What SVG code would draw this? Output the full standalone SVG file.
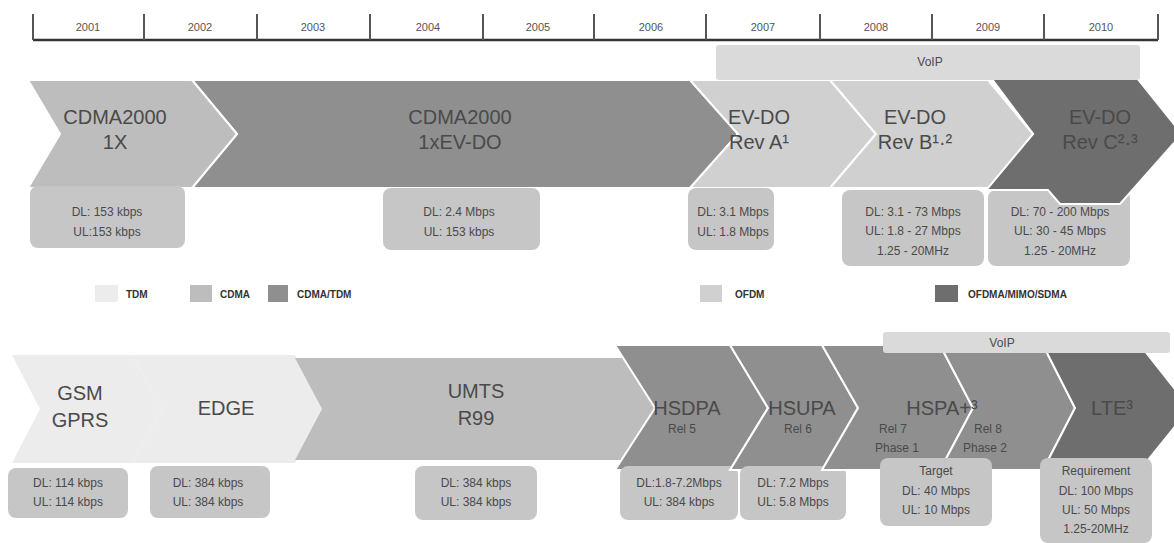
<svg xmlns="http://www.w3.org/2000/svg" width="1174" height="543" viewBox="0 0 1174 543">
<style>
.tdm{fill:#ececec}
.cdma{fill:#bdbdbd}
.ct{fill:#8f8f8f}
.ofdm{fill:#d0d0d0}
.ofdma{fill:#6e6e6e}
.box{fill:#c6c6c6}
.voip{fill:#dadada}
.chev{stroke:#ffffff;stroke-width:2}
.yr{font-family:"Liberation Sans",Arial,sans-serif;font-size:11px;fill:#555;text-anchor:middle}
.tt{font-family:"Liberation Sans",Arial,sans-serif;font-size:20px;fill:#4a4a4a;text-anchor:middle}
.st{font-family:"Liberation Sans",Arial,sans-serif;font-size:12px;fill:#4a4a4a;text-anchor:middle}
.bx{font-family:"Liberation Sans",Arial,sans-serif;font-size:12px;fill:#4a4a4a;text-anchor:middle}
.lg{font-family:"Liberation Sans",Arial,sans-serif;font-size:10px;font-weight:bold;fill:#333}
.tick{stroke:#555;stroke-width:2}
</style>

<g id="timeline">
<line x1="33" y1="40" x2="1158" y2="40" stroke="#333" stroke-width="2.5"/>
<line class="tick" x1="33" y1="14" x2="33" y2="40"/>
<line class="tick" x1="144" y1="14" x2="144" y2="40"/>
<line class="tick" x1="257" y1="14" x2="257" y2="40"/>
<line class="tick" x1="370" y1="14" x2="370" y2="40"/>
<line class="tick" x1="483" y1="14" x2="483" y2="40"/>
<line class="tick" x1="594" y1="14" x2="594" y2="40"/>
<line class="tick" x1="706" y1="14" x2="706" y2="40"/>
<line class="tick" x1="820" y1="14" x2="820" y2="40"/>
<line class="tick" x1="932" y1="14" x2="932" y2="40"/>
<line class="tick" x1="1044" y1="14" x2="1044" y2="40"/>
<line class="tick" x1="1158" y1="14" x2="1158" y2="40"/>
<text class="yr" x="88" y="31">2001</text>
<text class="yr" x="200" y="31">2002</text>
<text class="yr" x="313" y="31">2003</text>
<text class="yr" x="428" y="31">2004</text>
<text class="yr" x="538" y="31">2005</text>
<text class="yr" x="651" y="31">2006</text>
<text class="yr" x="763" y="31">2007</text>
<text class="yr" x="876" y="31">2008</text>
<text class="yr" x="988" y="31">2009</text>
<text class="yr" x="1101" y="31">2010</text>
</g>

<g id="evdo-revc">
<rect class="box" x="988" y="190" width="142" height="76" rx="8"/>
<polygon class="ofdma chev" points="980,63 1125,63 1182,134 1120,204 1060,204 1048,190 980,190 1033,134"/>
</g>
<g id="cdma2000-1xevdo">
<polygon class="ct chev" points="192,80 690,80 738,134 690,188 192,188 237,134"/>
<rect class="box" x="383" y="188" width="157" height="62" rx="8"/>
<text class="tt" x="460" y="124">CDMA2000</text>
<text class="tt" x="460" y="149">1xEV-DO</text>
<text class="bx" x="459" y="216">DL:  2.4 Mbps</text>
<text class="bx" x="459" y="236">UL: 153 kbps</text>
</g>
<g id="cdma2000-1x">
<polygon class="cdma chev" points="28,80 192,80 237,134 192,188 28,188 60,134"/>
<rect class="box" x="30" y="186" width="155" height="62" rx="8"/>
<text class="tt" x="115" y="124">CDMA2000</text>
<text class="tt" x="115" y="149">1X</text>
<text class="bx" x="107" y="216">DL: 153 kbps</text>
<text class="bx" x="107" y="236">UL:153 kbps</text>
</g>
<g id="evdo-reva">
<polygon class="ofdm chev" points="690,80 830,80 876,134 830,188 690,188 738,134"/>
<rect class="box" x="688" y="188" width="86" height="62" rx="8"/>
<text class="tt" x="759" y="124">EV-DO</text>
<text class="tt" x="759" y="149">Rev A¹</text>
<text class="bx" x="733" y="216">DL:  3.1 Mbps</text>
<text class="bx" x="733" y="236">UL:  1.8 Mbps</text>
</g>
<g id="evdo-revb">
<polygon class="ofdm chev" points="830,80 988,80 1033,134 988,188 830,188 876,134"/>
<rect class="box" x="842" y="190" width="142" height="76" rx="8"/>
<text class="tt" x="915" y="124">EV-DO</text>
<text class="tt" x="915" y="149">Rev B¹·²</text>
<text class="bx" x="913" y="216">DL:  3.1 - 73 Mbps</text>
<text class="bx" x="913" y="235">UL: 1.8 - 27 Mbps</text>
<text class="bx" x="913" y="255">1.25 - 20MHz</text>
</g>
<g id="voip-top">
<rect class="voip" x="716" y="45" width="424" height="35" rx="3"/>
<text class="st" x="930" y="66">VoIP</text>
</g>
<g id="evdo-revc-labels">
<text class="tt" x="1100" y="124">EV-DO</text>
<text class="tt" x="1100" y="149">Rev C²·³</text>
<text class="bx" x="1060" y="216">DL:  70 - 200 Mbps</text>
<text class="bx" x="1060" y="235">UL: 30 - 45 Mbps</text>
<text class="bx" x="1060" y="255">1.25 - 20MHz</text>
</g>

<g id="legend">
<rect class="tdm" x="95" y="285" width="23" height="17"/>
<text class="lg" x="126" y="298">TDM</text>
<rect class="cdma" x="190" y="285" width="22" height="17"/>
<text class="lg" x="220" y="298">CDMA</text>
<rect class="ct" x="268" y="285" width="20" height="17"/>
<text class="lg" x="297" y="298">CDMA/TDM</text>
<rect class="ofdm" x="700" y="285" width="22" height="17"/>
<text class="lg" x="735" y="298">OFDM</text>
<rect class="ofdma" x="935" y="285" width="23" height="17"/>
<text class="lg" x="968" y="298">OFDMA/MIMO/SDMA</text>
</g>

<g id="gsm-gprs">
<polygon class="tdm" points="12,355 132,355 162,409 132,463 12,463 40,409"/>
<rect class="box" x="8" y="468" width="120" height="50" rx="8"/>
<text class="tt" x="80" y="400">GSM</text>
<text class="tt" x="80" y="427">GPRS</text>
<text class="bx" x="68" y="487">DL:  114 kbps</text>
<text class="bx" x="68" y="506">UL:  114 kbps</text>
</g>
<g id="edge">
<polygon class="tdm" points="132,355 295,355 322,409 295,463 132,463 162,409"/>
<rect class="box" x="150" y="466" width="120" height="52" rx="8"/>
<text class="tt" x="226" y="415">EDGE</text>
<text class="bx" x="208" y="487">DL:  384 kbps</text>
<text class="bx" x="208" y="506">UL:  384 kbps</text>
</g>
<g id="umts-r99">
<polygon class="cdma" points="295,358 655,358 655,460 295,460 322,409"/>
<rect class="box" x="415" y="466" width="122" height="54" rx="8"/>
<text class="tt" x="476" y="398">UMTS</text>
<text class="tt" x="476" y="425">R99</text>
<text class="bx" x="476" y="487">DL:  384 kbps</text>
<text class="bx" x="476" y="506">UL:  384 kbps</text>
</g>
<g id="hsdpa">
<polygon class="ct chev" points="615,345 730,345 768,408 730,470 615,470 655,408"/>
<rect class="box" x="620" y="466" width="118" height="54" rx="8"/>
<text class="tt" x="687" y="415">HSDPA</text>
<text class="st" x="682" y="433">Rel 5</text>
<text class="bx" x="679" y="487">DL:1.8-7.2Mbps</text>
<text class="bx" x="679" y="506">UL: 384 kbps</text>
</g>
<g id="hsupa">
<polygon class="ct chev" points="730,345 822,345 858,408 822,470 730,470 768,408"/>
<rect class="box" x="740" y="466" width="106" height="54" rx="8"/>
<text class="tt" x="802" y="415">HSUPA</text>
<text class="st" x="798" y="433">Rel 6</text>
<text class="bx" x="793" y="487">DL:  7.2 Mbps</text>
<text class="bx" x="793" y="506">UL:  5.8 Mbps</text>
</g>
<g id="hspa-plus">
<polygon class="ct chev" points="822,345 940,345 973,408 940,470 822,470 858,408"/>
<polygon class="ct chev" points="940,345 1043,345 1075,408 1043,470 940,470 973,408"/>
<rect class="box" x="880" y="458" width="112" height="68" rx="8"/>
<text class="tt" x="942" y="415">HSPA+³</text>
<text class="st" x="893" y="433">Rel 7</text>
<text class="st" x="897" y="452">Phase 1</text>
<text class="st" x="988" y="433">Rel 8</text>
<text class="st" x="985" y="452">Phase 2</text>
<text class="bx" x="936" y="475">Target</text>
<text class="bx" x="936" y="495">DL: 40 Mbps</text>
<text class="bx" x="936" y="514">UL: 10 Mbps</text>
</g>
<g id="lte">
<polygon class="ofdma chev" points="1043,345 1140,345 1190,408 1140,470 1043,470 1075,408"/>
<rect class="box" x="1040" y="458" width="112" height="85" rx="8"/>
<text class="tt" x="1112" y="415">LTE³</text>
<text class="bx" x="1096" y="475">Requirement</text>
<text class="bx" x="1096" y="495">DL: 100 Mbps</text>
<text class="bx" x="1096" y="514">UL: 50 Mbps</text>
<text class="bx" x="1096" y="533">1.25-20MHz</text>
</g>
<g id="voip-bottom">
<rect class="voip" x="883" y="332" width="287" height="21" rx="3"/>
<text class="st" x="1002" y="347">VoIP</text>
</g>
<g id="connectors"></g>
</svg>
